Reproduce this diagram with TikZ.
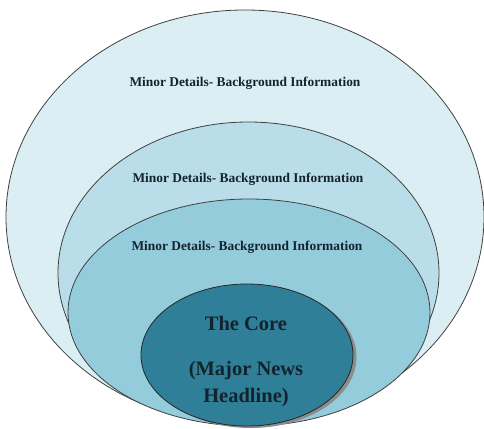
\documentclass[tikz,border=0pt]{standalone}
\usepackage{fontspec}
\setmainfont{Liberation Serif}
\usepackage{tikz}
\usetikzlibrary{positioning}
\definecolor{ringA}{HTML}{DBEEF4}
\definecolor{ringB}{HTML}{BADEE9}
\definecolor{ringC}{HTML}{95CCDC}
\definecolor{coreC}{HTML}{2F7F99}
\definecolor{inkC}{HTML}{14222E}
\tikzset{
  ring/.style={draw=black!75, line width=0.8pt},
  minortext/.style={text=inkC, font=\fontsize{13.4}{15}\selectfont\bfseries},
  coretext/.style={text=inkC, align=center, font=\fontsize{20.5}{27}\selectfont\bfseries}
}
\begin{document}
\begin{tikzpicture}[line cap=round,line join=round, x=1pt,y=1pt]
	\useasboundingbox (0,0) rectangle (484,428);
	\fill[white] (0,0) rectangle (484,428);
	\draw[ring, fill=ringA] (245,211) ellipse [x radius=239, y radius=207];
	\draw[ring, fill=ringB] (248.5,155) ellipse [x radius=190.5, y radius=151];
	\draw[ring, fill=ringC] (249,115.5) ellipse [x radius=181, y radius=113.5];
	\fill[black!45] (250.5,71) ellipse [x radius=106, y radius=71];
	\draw[ring, draw=black!85, fill=coreC] (247,73) ellipse [x radius=106, y radius=71];
	\node[minortext] (outer) at (245,345) {Minor Details- Background Information};
	\node[minortext] (middle) at (248,249) {Minor Details- Background Information};
	\node[minortext] (inner) at (247,181) {Minor Details- Background Information};
	\node[coretext] (core) at (246,66) {The Core\\[18pt](Major News\\Headline)};
\end{tikzpicture}
\end{document}
